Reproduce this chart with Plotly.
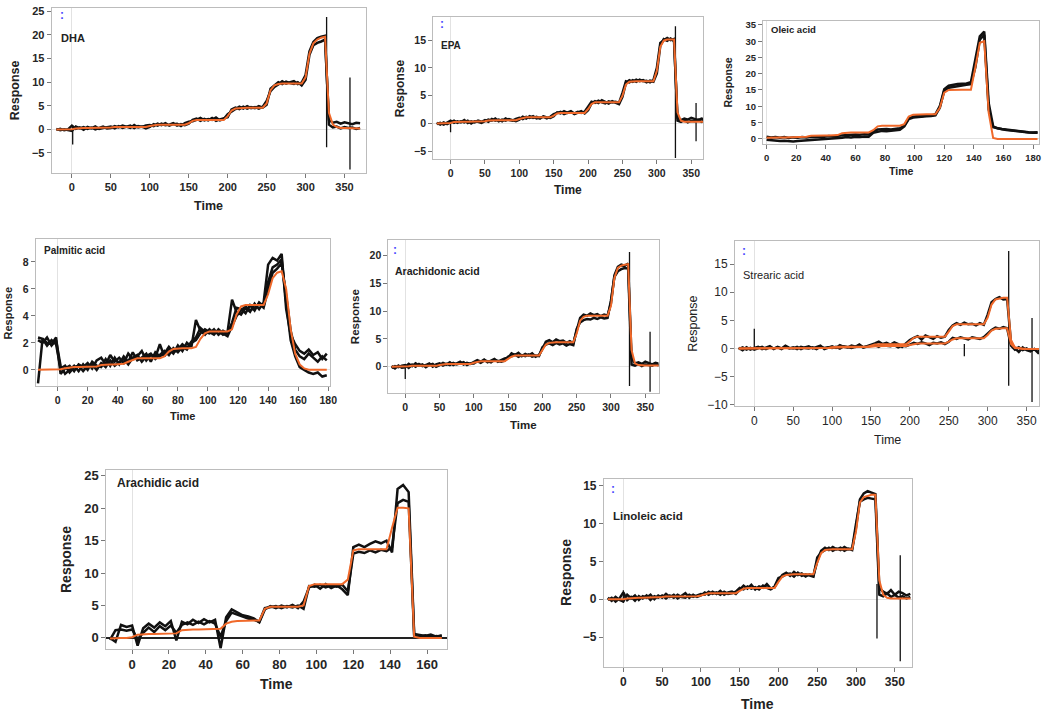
import plotly.graph_objects as go

# ---------------- time grids ----------------
long_time = list(range(-20, 371, 5))        # DHA, EPA, Arachidonic, Stearic, Linoleic
oleic_time = list(range(0, 184, 3))
palmitic_time = list(range(-13, 180, 3))
arachidic_time = list(range(-12, 169, 3))

# ---------------- DHA ----------------
dha_fit = [0, 0, 0, 0,
           0.05, 0.2, 0.3, 0.3, 0.3, 0.3, 0.3, 0.3, 0.3, 0.3,
           0.4, 0.5, 0.5, 0.5, 0.5, 0.5, 0.5, 0.5, 0.5, 0.5,
           0.7, 0.9, 1.0, 1.0, 1.0, 1.0, 1.0, 1.0, 1.0, 1.0,
           1.3, 1.8, 2.0, 2.0, 2.0, 2.0, 2.0, 2.0, 2.0, 2.0,
           2.8, 4.0, 4.4, 4.5, 4.5, 4.6, 4.6, 4.6, 4.6, 4.6,
           5.5, 8.3, 9.3, 9.6, 9.7, 9.7, 9.7, 9.7, 9.7, 9.7,
           11.0, 16.0, 18.2, 19.0, 19.4, 19.6,
           3.5, 1.0, 0.5, 0.3, 0.3, 0.3, 0.2, 0.2, 0.2]
dha_obs_a = [0.1, -0.2, 0.0, -0.1,
             -0.3, 0.6, 0.2, 0.5, 0.1, 0.4, 0.0, 0.3, 0.6, 0.2,
             0.3, 0.7, 0.4, 0.8, 0.5, 0.3, 0.9, 0.4, 0.6, 0.2,
             0.5, 1.1, 0.8, 1.2, 0.9, 1.0, 1.3, 0.8, 1.1, 0.9,
             1.2, 2.0, 2.3, 1.8, 2.2, 1.9, 2.4, 1.8, 2.1, 2.3,
             2.6, 4.2, 4.6, 4.3, 4.8, 4.4, 4.7, 4.5, 4.9, 4.6,
             5.2, 8.6, 9.4, 10.0, 9.6, 10.1, 9.8, 9.6, 10.0, 9.3,
             10.5, 15.8, 17.8, 18.3, 18.6, 19.0,
             2.0, 1.4, 1.6, 1.2, 1.5, 1.3, 1.1, 1.4, 1.3]
dha_obs_b = [-0.1, 0.1, -0.2, 0.0,
             0.8, 0.1, 0.4, -0.1, 0.5, 0.2, 0.6, 0.1, 0.3, 0.5,
             0.6, 0.2, 0.7, 0.3, 0.6, 0.8, 0.3, 0.7, 0.5, 0.8,
             0.9, 0.7, 1.2, 0.9, 1.3, 0.8, 1.1, 1.2, 0.7, 1.3,
             1.6, 1.7, 2.0, 2.4, 1.9, 2.2, 2.0, 2.5, 1.9, 2.2,
             3.2, 3.8, 4.3, 4.8, 4.4, 4.9, 4.5, 4.7, 4.4, 4.8,
             6.0, 8.1, 9.0, 9.5, 10.2, 9.7, 9.9, 10.2, 9.6, 9.9,
             11.5, 16.5, 18.5, 19.3, 19.6, 19.8,
             1.0, 0.4, 0.6, 0.2, 0.5, 0.3, 0.4, 0.1, 0.3]
dha_spike_t = [1, 327, 357]
dha_spike_lo = [-3.2, -3.8, -8.5]
dha_spike_hi = [0.8, 23.8, 11.0]

# ---------------- EPA ----------------
epa_fit = [0, 0, 0, 0,
           0.1, 0.25, 0.3, 0.3, 0.3, 0.3, 0.3, 0.3, 0.3, 0.3,
           0.4, 0.55, 0.6, 0.6, 0.6, 0.6, 0.6, 0.6, 0.6, 0.6,
           0.8, 1.0, 1.1, 1.1, 1.1, 1.1, 1.1, 1.1, 1.1, 1.1,
           1.4, 1.8, 1.9, 1.9, 1.9, 1.9, 1.9, 1.9, 1.9, 1.9,
           2.6, 3.5, 3.8, 3.8, 3.8, 3.8, 3.8, 3.8, 3.8, 3.8,
           5.0, 7.0, 7.5, 7.6, 7.6, 7.6, 7.6, 7.6, 7.6, 7.6,
           9.5, 13.8, 14.9, 15.1, 15.1, 15.1,
           2.0, 0.5, 0.3, 0.3, 0.3, 0.3, 0.3, 0.3, 0.3]
epa_obs_a = [0.1, -0.2, 0.2, -0.1,
             0.2, 0.5, 0.1, 0.4, 0.2, 0.5, 0.0, 0.4, 0.3, 0.1,
             0.4, 0.7, 0.5, 0.9, 0.4, 0.7, 0.5, 0.8, 0.6, 0.4,
             0.7, 1.2, 0.9, 1.3, 1.0, 1.2, 0.9, 1.3, 1.1, 1.0,
             1.3, 2.0, 1.8, 2.2, 1.9, 2.1, 1.7, 2.0, 2.2, 1.8,
             2.4, 3.6, 4.0, 3.7, 4.2, 3.9, 3.6, 4.0, 3.7, 3.5,
             4.8, 7.3, 7.8, 7.5, 7.9, 7.6, 7.8, 7.4, 7.7, 7.5,
             9.0, 14.0, 15.2, 14.9, 15.3, 14.8,
             1.0, 0.6, 0.9, 0.7, 1.0, 0.8, 0.6, 0.9, 0.7]
epa_obs_b = [-0.1, 0.1, -0.2, 0.1,
             0.5, 0.1, 0.4, 0.2, 0.6, 0.1, 0.4, 0.2, 0.5, 0.3,
             0.6, 0.3, 0.8, 0.5, 0.7, 0.4, 0.9, 0.6, 0.5, 0.8,
             1.0, 0.8, 1.2, 1.0, 1.3, 0.9, 1.1, 1.2, 0.9, 1.2,
             1.7, 1.9, 2.1, 1.7, 2.0, 2.2, 1.8, 2.1, 1.9, 2.1,
             3.0, 3.9, 3.7, 4.1, 3.8, 3.6, 4.0, 3.8, 3.9, 3.7,
             5.5, 7.6, 7.4, 7.8, 7.5, 7.9, 7.6, 7.7, 7.4, 7.8,
             10.0, 14.5, 15.0, 15.4, 15.0, 15.2,
             0.5, 0.3, 0.6, 0.2, 0.5, 0.4, 0.7, 0.3, 0.6]
epa_spike_t = [0, 327, 357]
epa_spike_lo = [-1.6, -6.2, -3.2]
epa_spike_hi = [0.5, 17.5, 3.7]

# ---------------- Oleic acid ----------------
oleic_fit = [0.3, 0.4, 0.4, 0.4, 0.4, 0.4, 0.4, 0.4, 0.4, 0.6,
             0.9, 1.0, 1.0, 1.0, 1.0, 1.0, 1.1,
             1.7, 1.9, 1.9, 1.9, 1.9, 1.9, 1.9,
             2.6, 3.8, 4.0, 4.0, 4.0, 4.0, 4.0,
             4.5, 6.8, 7.4, 7.5, 7.5, 7.5, 7.5, 7.5,
             9.5, 14.2, 15.0, 15.1, 15.1, 15.1, 15.1, 15.1,
             22.0, 29.5, 30.0, 8.0,
             0.2, -0.1, -0.1, -0.1, -0.1, -0.1, -0.1, -0.1, -0.1, -0.1, -0.1]
oleic_obs_a = [0.6, 0.4, 0.5, 0.3, 0.5, 0.2, 0.4, 0.3, 0.5, 0.4,
               0.6, 0.5, 0.7, 0.6, 0.8, 0.7, 0.9,
               1.0, 1.2, 1.1, 1.3, 1.2, 1.4, 1.3,
               2.3, 2.8, 2.9, 3.0, 2.8, 3.1, 3.2,
               4.0, 6.3, 6.8, 7.0, 6.9, 7.2, 7.1, 7.5,
               10.0, 15.2, 16.3, 16.6, 16.8, 16.9, 17.0, 17.4,
               24.0, 31.5, 33.0, 11.0,
               3.8, 3.2, 3.0, 2.8, 2.6, 2.5, 2.3, 2.2, 2.0, 1.9, 2.0]
oleic_obs_b = [-0.3, -0.5, -0.6, -0.7, -0.6, -0.8, -0.9, -0.7, -0.6, -0.5,
               -0.4, -0.5, -0.3, -0.2, -0.1, 0.0, 0.1,
               0.3, 0.5, 0.4, 0.6, 0.5, 0.7, 0.6,
               1.8, 2.2, 2.4, 2.3, 2.5, 2.6, 2.7,
               3.8, 6.0, 6.5, 6.7, 6.8, 6.9, 7.0, 7.2,
               9.5, 14.8, 15.7, 16.0, 16.2, 16.4, 16.6, 16.8,
               22.0, 30.5, 32.0, 9.0,
               3.5, 3.1, 2.9, 2.7, 2.5, 2.4, 2.2, 2.1, 1.9, 1.8, 1.8]

# ---------------- Palmitic acid ----------------
palmitic_fit = [0, 0, 0, 0, 0,
                0.05, 0.12, 0.18, 0.2, 0.2, 0.2, 0.2, 0.2, 0.25, 0.35,
                0.4, 0.4, 0.4, 0.4, 0.45, 0.6, 0.75, 0.85, 0.85, 0.85,
                0.85, 0.85, 0.85, 1.0, 1.35, 1.55, 1.6, 1.6, 1.6, 1.6,
                1.7, 2.3, 2.7, 2.85, 2.85, 2.85, 2.85, 2.85, 3.0, 4.1,
                4.7, 4.8, 4.8, 4.8, 4.8, 4.8, 5.6, 6.8, 7.2, 7.3,
                6.0, 3.0, 1.2, 0.4, 0.1, 0.0, 0.0, 0.0, 0.0, 0.0]
palmitic_obs_a = [-1.0, 2.3, 2.0, 1.9, 2.4,
                  -0.3, 0.1, 0.3, -0.1, 0.4, 0.2, 0.5, 0.1, 0.7, 0.9,
                  0.4, 1.1, 0.6, 0.9, 0.5, 1.2, 0.8, 1.0, 1.4, 0.7,
                  1.1, 0.9, 1.9, 1.0, 1.5, 1.2, 1.8, 1.4, 2.0, 1.7,
                  3.7, 2.9, 2.6, 3.0, 2.7, 2.9, 2.6, 2.8, 5.2, 4.3,
                  4.1, 4.6, 4.3, 4.9, 4.5, 5.0, 7.8, 8.3, 8.1, 8.6,
                  4.5, 2.6, 1.9, 1.4, 1.2, 1.5, 1.1, 1.3, 0.8, 1.2]
palmitic_obs_b = [2.2, 2.0, 2.4, 1.8, 2.2,
                  0.3, -0.3, 0.0, 0.3, -0.1, 0.4, 0.0, 0.6, 0.3, 0.2,
                  0.8, 0.3, 0.9, 0.4, 1.0, 0.6, 1.3, 0.7, 0.9, 1.2,
                  0.6, 1.3, 1.0, 1.2, 1.7, 1.3, 1.5, 1.9, 1.6, 2.1,
                  2.4, 3.1, 2.8, 2.7, 3.0, 2.6, 2.9, 2.7, 3.5, 4.6,
                  4.5, 4.2, 4.8, 4.4, 5.0, 4.7, 6.5, 7.6, 7.8, 8.2,
                  5.0, 2.2, 1.0, 0.2, 0.0, -0.2, -0.3, -0.2, -0.5, -0.4]
palmitic_obs_c = [2.4, 2.3, 1.8, 2.2, 1.9,
                  0.1, 0.3, -0.2, 0.2, 0.3, -0.1, 0.3, 0.4, 0.0, 0.5,
                  0.2, 0.7, 0.3, 0.6, 0.8, 0.4, 0.9, 1.1, 0.6, 1.0,
                  1.2, 0.8, 1.1, 1.4, 1.1, 1.6, 1.3, 1.7, 1.5, 2.0,
                  2.2, 2.7, 3.0, 2.8, 2.6, 3.0, 2.7, 2.5, 3.2, 4.0,
                  4.4, 4.7, 4.4, 4.6, 4.9, 4.6, 6.0, 7.2, 7.5, 7.9,
                  5.5, 2.9, 1.5, 1.0, 0.8, 1.2, 0.9, 0.6, 1.0, 0.7]

# ---------------- Arachidonic acid ----------------
arachidonic_fit = [0, 0, 0, 0,
                   0.05, 0.1, 0.15, 0.15, 0.15, 0.15, 0.15, 0.15, 0.15, 0.15,
                   0.3, 0.45, 0.5, 0.5, 0.5, 0.5, 0.5, 0.5, 0.5, 0.5,
                   0.7, 0.9, 1.0, 1.0, 1.0, 1.0, 1.0, 1.0, 1.0, 1.0,
                   1.4, 1.8, 2.0, 2.0, 2.0, 2.0, 2.0, 2.0, 2.0, 2.0,
                   3.0, 4.0, 4.3, 4.4, 4.4, 4.4, 4.4, 4.4, 4.4, 4.4,
                   6.0, 8.3, 9.0, 9.2, 9.2, 9.2, 9.2, 9.2, 9.2, 9.2,
                   11.0, 16.0, 17.8, 18.2, 18.4, 18.5,
                   3.0, 0.6, 0.3, 0.2, 0.2, 0.2, 0.2, 0.2, 0.2]
arachidonic_obs_a = [0.1, -0.3, 0.2, -0.2,
                     -0.1, 0.5, 0.1, 0.6, 0.2, 0.4, -0.1, 0.3, 0.5, 0.0,
                     0.3, 0.7, 0.4, 0.8, 0.3, 0.6, 0.9, 0.4, 0.7, 0.5,
                     0.8, 1.2, 0.9, 1.3, 0.8, 1.1, 1.4, 0.9, 1.2, 1.5,
                     1.6, 2.4, 2.1, 2.5, 1.9, 2.3, 2.0, 2.4, 1.8, 2.1,
                     3.2, 4.5, 4.8, 4.4, 4.9, 4.6, 4.7, 4.3, 4.6, 4.2,
                     6.5, 8.8, 9.4, 9.2, 9.6, 9.3, 9.5, 9.1, 9.4, 9.2,
                     11.5, 16.5, 18.0, 18.4, 18.2, 18.6,
                     1.5, 0.6, 0.8, 0.5, 0.9, 0.6, 0.4, 0.7, 0.5]
arachidonic_obs_b = [-0.2, 0.1, -0.1, 0.2,
                     0.3, -0.2, 0.4, 0.0, 0.5, 0.1, 0.3, 0.6, 0.0, 0.4,
                     0.6, 0.2, 0.5, 0.3, 0.7, 0.4, 0.6, 0.8, 0.3, 0.6,
                     0.6, 1.0, 0.7, 1.1, 1.0, 0.8, 1.2, 1.0, 0.9, 1.1,
                     1.8, 1.9, 2.2, 1.8, 2.1, 1.9, 2.2, 1.8, 2.0, 1.9,
                     3.5, 4.0, 4.2, 3.9, 4.3, 4.0, 4.2, 3.8, 4.1, 3.9,
                     6.8, 8.0, 8.4, 8.6, 8.5, 8.8, 8.6, 8.9, 8.7, 8.8,
                     12.0, 16.2, 17.2, 17.6, 17.8, 17.7,
                     0.4, 0.2, 0.5, 0.1, 0.4, 0.3, 0.2, 0.5, 0.2]
arachidonic_spike_t = [0, 327, 357]
arachidonic_spike_lo = [-2.2, -3.5, -4.5]
arachidonic_spike_hi = [0.5, 20.7, 6.3]

# ---------------- Strearic acid ----------------
stearic_fit_high = [0, 0, 0, 0,
                    0, 0.05, 0.05, 0.05, 0.05, 0.05, 0.05, 0.05, 0.05, 0.05,
                    0.1, 0.1, 0.1, 0.1, 0.1, 0.1, 0.1, 0.1, 0.1, 0.1,
                    0.2, 0.3, 0.3, 0.3, 0.3, 0.3, 0.3, 0.3, 0.3, 0.3,
                    0.5, 0.7, 0.75, 0.75, 0.75, 0.75, 0.75, 0.75, 0.75, 0.75,
                    1.3, 1.9, 2.1, 2.1, 2.1, 2.1, 2.1, 2.1, 2.1, 2.1,
                    3.0, 4.0, 4.3, 4.3, 4.3, 4.3, 4.3, 4.3, 4.3, 4.3,
                    5.5, 7.8, 8.7, 8.9, 9.0, 9.0,
                    1.5, 0.2, 0.0, -0.1, -0.1, -0.1, -0.1, -0.1, -0.1]
stearic_fit_low = [0, 0, 0, 0,
                   0, 0.05, 0.05, 0.05, 0.05, 0.05, 0.05, 0.05, 0.05, 0.05,
                   0.1, 0.1, 0.1, 0.1, 0.1, 0.1, 0.1, 0.1, 0.1, 0.1,
                   0.15, 0.2, 0.2, 0.2, 0.2, 0.2, 0.2, 0.2, 0.2, 0.2,
                   0.3, 0.4, 0.45, 0.45, 0.45, 0.45, 0.45, 0.45, 0.45, 0.45,
                   0.6, 0.8, 0.9, 0.9, 0.9, 0.9, 0.9, 0.9, 0.9, 0.9,
                   1.2, 1.6, 1.8, 1.8, 1.8, 1.8, 1.8, 1.8, 1.8, 1.8,
                   2.4, 3.2, 3.5, 3.6, 3.6, 3.6,
                   0.8, 0.1, 0.0, -0.1, -0.1, -0.1, -0.1, -0.1, -0.1]
stearic_obs_high = [0.1, -0.3, 0.2, -0.2,
                    0.1, 0.3, -0.1, 0.2, 0.4, -0.1, 0.3, 0.0, 0.5, 0.1,
                    0.0, 0.3, -0.1, 0.2, 0.4, 0.0, 0.3, 0.5, -0.1, 0.2,
                    0.4, 0.1, 0.6, 0.3, 0.2, 0.5, 0.3, 0.7, 0.2, 0.4,
                    0.6, 0.9, 1.2, 0.8, 1.0, 0.7, 1.1, 0.8, 0.3, 0.9,
                    1.5, 1.9, 2.2, 1.6, 2.3, 2.0, 1.7, 2.2, 1.9, 2.1,
                    3.3, 4.1, 4.5, 4.2, 4.6, 4.3, 4.4, 4.1, 4.5, 4.2,
                    6.0, 8.2, 8.8, 9.1, 8.7, 8.8,
                    1.0, 0.0, -0.6, 0.2, -0.3, -0.5, -0.1, -0.8, -0.4]
stearic_obs_low = [-0.1, 0.2, -0.2, 0.1,
                   -0.2, 0.1, 0.3, -0.1, 0.2, 0.0, 0.2, -0.1, 0.3, 0.0,
                   0.2, -0.1, 0.3, 0.1, 0.0, 0.2, -0.1, 0.3, 0.1, 0.2,
                   0.1, 0.3, 0.0, 0.4, 0.2, 0.1, 0.3, 0.5, 0.2, 0.3,
                   0.4, 0.6, 0.3, 0.7, 0.5, 0.4, 0.6, 0.2, 0.5, 0.4,
                   0.7, 1.0, 0.8, 1.1, 0.9, 0.6, 1.0, 0.9, 1.1, 0.8,
                   1.2, 1.9, 1.7, 2.0, 1.8, 1.6, 2.0, 1.9, 1.7, 2.0,
                   2.6, 3.3, 3.7, 3.5, 3.8, 3.6,
                   0.5, -0.2, 0.2, -0.3, 0.0, -0.4, -0.1, -0.2, -0.5]
stearic_spike_t = [0, 270, 327, 357]
stearic_spike_lo = [-0.2, -1.4, -6.6, -9.5]
stearic_spike_hi = [3.5, 0.8, 17.3, 5.4]

# ---------------- Arachidic acid ----------------
arachidic_fit = [-0.1, 0.0, 0.0, 0.0,
                 0.1, 0.5, 0.6, 0.6, 0.6, 0.6, 0.6, 0.6,
                 0.7, 1.2, 1.3, 1.3, 1.3, 1.3, 1.3, 1.3,
                 1.4, 2.2, 2.5, 2.6, 2.6, 2.6, 2.6, 2.7,
                 4.5, 4.8, 4.8, 4.8, 4.8, 4.8, 4.8, 5.0,
                 8.0, 8.3, 8.3, 8.3, 8.3, 8.3, 8.3, 9.0,
                 13.5, 13.7, 13.7, 13.7, 13.7, 13.7, 13.7, 17.0,
                 20.1, 20.1, 20.0, 0.2, 0.0, 0.0, 0.0, 0.0,
                 0.0]
arachidic_obs_a = [0.0, -0.6, 2.0, 1.7,
                   1.9, -1.2, 1.5, 2.2, 1.6, 2.4, 1.8, 2.6,
                   -0.4, 2.5, 2.1, 2.8, 2.3, 2.9, 2.4, 2.8,
                   -1.6, 3.2, 4.4, 4.0, 3.5, 3.3, 3.0, 2.4,
                   4.4, 4.9, 4.6, 5.0, 4.7, 5.1, 4.6, 5.6,
                   7.8, 8.2, 7.6, 8.3, 7.7, 8.1, 7.5, 6.6,
                   14.0, 14.4, 14.0, 14.5, 14.9, 14.6, 15.0, 13.2,
                   23.0, 23.6, 22.5, 0.6, 0.4, 0.3, 0.5, 0.2,
                   0.4]
arachidic_obs_b = [-0.3, 1.2, 1.3, 1.1,
                   1.3, -0.2, 0.8, 1.6, 0.9, 1.8, 1.2, 1.9,
                   0.8, 2.0, 2.4, 2.0, 2.5, 2.1, 2.6, 2.2,
                   0.2, 2.6, 3.9, 3.6, 3.2, 3.0, 2.8, 2.5,
                   4.6, 4.7, 4.9, 4.6, 4.9, 4.7, 5.0, 4.5,
                   8.0, 7.9, 8.2, 7.8, 8.1, 7.9, 8.2, 7.2,
                   13.0, 13.3, 13.1, 13.5, 13.2, 13.6, 13.4, 14.0,
                   20.8, 21.3, 21.0, 0.3, 0.2, 0.4, 0.1, 0.3,
                   0.2]

# ---------------- Linoleic acid ----------------
linoleic_fit = [0, 0, 0, 0,
                0.0, 0.1, 0.15, 0.2, 0.2, 0.2, 0.2, 0.2, 0.25, 0.25,
                0.3, 0.35, 0.35, 0.35, 0.4, 0.4, 0.4, 0.4, 0.4, 0.4,
                0.5, 0.7, 0.8, 0.8, 0.8, 0.8, 0.8, 0.8, 0.8, 0.8,
                1.1, 1.4, 1.5, 1.5, 1.5, 1.5, 1.5, 1.5, 1.5, 1.5,
                2.3, 3.0, 3.2, 3.3, 3.3, 3.3, 3.3, 3.3, 3.3, 3.3,
                4.8, 6.1, 6.5, 6.6, 6.6, 6.6, 6.6, 6.6, 6.6, 6.6,
                9.0, 12.8, 13.5, 13.7, 13.8, 13.8,
                2.5, 0.6, 0.2, 0.1, 0.1, 0.1, 0.1, 0.1, 0.1]
linoleic_obs_a = [0.2, -0.2, 0.3, -0.1,
                  -0.3, 0.6, 0.1, 0.5, -0.1, 0.4, 0.2, 0.6, 0.0, 0.5,
                  0.2, 0.7, 0.3, 0.6, 0.1, 0.5, 0.8, 0.2, 0.6, 0.3,
                  0.5, 0.9, 0.6, 1.0, 0.7, 1.1, 0.6, 0.9, 1.0, 0.7,
                  1.2, 1.8, 1.4, 1.9, 1.3, 1.7, 1.5, 2.0, 1.4, 1.6,
                  2.5, 3.2, 3.5, 3.1, 3.6, 3.2, 3.4, 3.0, 3.3, 3.1,
                  5.0, 6.4, 6.8, 6.5, 6.9, 6.6, 6.8, 6.4, 6.7, 6.5,
                  9.5, 13.2, 14.0, 14.3, 14.1, 13.9,
                  1.5, 1.0, 0.7, 1.2, 0.6, 1.0, 0.8, 0.5, 0.7]
linoleic_obs_b = [-0.1, 0.2, -0.3, 0.1,
                  0.9, -0.1, 0.3, -0.2, 0.4, 0.1, 0.5, -0.1, 0.4, 0.2,
                  0.5, 0.1, 0.5, 0.2, 0.6, 0.3, 0.2, 0.6, 0.3, 0.5,
                  0.7, 0.6, 1.0, 0.7, 0.9, 0.6, 1.0, 0.7, 0.8, 1.0,
                  1.5, 1.3, 1.7, 1.4, 1.6, 1.3, 1.8, 1.5, 1.3, 1.7,
                  2.8, 3.0, 3.3, 3.4, 3.0, 3.5, 3.1, 3.3, 3.2, 3.0,
                  5.5, 6.2, 6.5, 6.8, 6.4, 6.7, 6.5, 6.9, 6.6, 6.7,
                  10.0, 12.9, 13.2, 13.4, 13.3, 13.2,
                  0.6, 0.4, 0.8, 0.3, 0.6, 0.2, 0.4, 0.1, 0.3]
linoleic_spike_t = [0, 327, 357]
linoleic_spike_lo = [-0.5, -5.2, -8.2]
linoleic_spike_hi = [1.2, 2.0, 5.8]

# ---------------- assemble ----------------
series = {
    "dha": dict(t=long_time, fits=[dha_fit], obs=[dha_obs_a, dha_obs_b],
                spikes=(dha_spike_t, dha_spike_lo, dha_spike_hi)),
    "epa": dict(t=long_time, fits=[epa_fit], obs=[epa_obs_a, epa_obs_b],
                spikes=(epa_spike_t, epa_spike_lo, epa_spike_hi)),
    "oleic": dict(t=oleic_time, fits=[oleic_fit], obs=[oleic_obs_a, oleic_obs_b], spikes=None),
    "palmitic": dict(t=palmitic_time, fits=[palmitic_fit],
                     obs=[palmitic_obs_a, palmitic_obs_b, palmitic_obs_c], spikes=None),
    "arachidonic": dict(t=long_time, fits=[arachidonic_fit],
                        obs=[arachidonic_obs_a, arachidonic_obs_b],
                        spikes=(arachidonic_spike_t, arachidonic_spike_lo, arachidonic_spike_hi)),
    "stearic": dict(t=long_time, fits=[stearic_fit_high, stearic_fit_low],
                    obs=[stearic_obs_high, stearic_obs_low],
                    spikes=(stearic_spike_t, stearic_spike_lo, stearic_spike_hi)),
    "arachidic": dict(t=arachidic_time, fits=[arachidic_fit],
                      obs=[arachidic_obs_a, arachidic_obs_b], spikes=None),
    "linoleic": dict(t=long_time, fits=[linoleic_fit], obs=[linoleic_obs_a, linoleic_obs_b],
                     spikes=(linoleic_spike_t, linoleic_spike_lo, linoleic_spike_hi)),
}

# layout per panel: box (left, right, top, bottom) in px
panels = [
    dict(key="dha", label="DHA", box=(52, 368, 5, 172), xr=(-26, 377), yr=(-9.2, 25.7),
         dx=50, dy=5, tick=11, title=12.5, lab=11, bold=True, ytx=15, xty=206,
         labpos=(59, 35), dots=(62, 12)),
    dict(key="epa", label="EPA", box=(436, 708, 14, 158), xr=(-25.4, 367.5), yr=(-6.4, 19.2),
         dx=50, dy=5, tick=10.5, title=12, lab=10, bold=True, ytx=403, xty=189,
         labpos=(442, 43), dots=(445, 21)),
    dict(key="oleic", label="Oleic acid", box=(768, 1046, 18, 143), xr=(-2.5, 184), yr=(-1.7, 36.3),
         dx=20, dy=5, tick=9.5, title=10.5, lab=9.5, bold=True, ytx=733, xty=170,
         labpos=(774, 27), dots=None),
    dict(key="palmitic", label="Palmitic acid", box=(36, 332, 239, 388), xr=(-14.5, 181), yr=(-1.21, 9.7),
         dx=20, dy=2, tick=10.5, title=11, lab=10, bold=True, ytx=8, xty=418,
         labpos=(42, 251), dots=None),
    dict(key="arachidonic", label="Arachidonic acid", box=(391, 663, 240, 395), xr=(-24.6, 369.4),
         yr=(-4.75, 22.85), dx=50, dy=5, tick=10.5, title=11.5, lab=10.5, bold=True, ytx=357, xty=427,
         labpos=(396, 271), dots=(398, 250)),
    dict(key="stearic", label="Strearic acid", box=(740, 1046, 241, 408), xr=(-24.7, 366), yr=(-10.2, 19.1),
         dx=50, dy=5, tick=12, title=12.5, lab=11, bold=False, ytx=698, xty=443,
         labpos=(746, 275), dots=(749, 251)),
    dict(key="arachidic", label="Arachidic acid", box=(107, 450, 473, 654), xr=(-14, 170.8), yr=(-1.68, 25.9),
         dx=20, dy=5, tick=13, title=14, lab=12, bold=True, ytx=67, xty=690,
         labpos=(116, 486), dots=None),
    dict(key="linoleic", label="Linoleic acid", box=(608, 918, 482, 672), xr=(-25, 372), yr=(-8.9, 15.9),
         dx=50, dy=5, tick=12, title=14, lab=11.5, bold=True, ytx=570, xty=710,
         labpos=(615, 520), dots=(617, 492)),
]

W, H = 1050, 718
FONT = "Liberation Sans, Arial, sans-serif"
ORANGE = "#F0692A"
BLACK = "#111111"

fig = go.Figure()
annotations = []
layout_axes = {}

for i, p in enumerate(panels):
    n = "" if i == 0 else str(i + 1)
    xa, ya = "x" + n, "y" + n
    s = series[p["key"]]
    for obs in s["obs"]:
        fig.add_trace(go.Scatter(x=s["t"], y=obs, mode="lines",
                                 line=dict(color=BLACK, width=2.5),
                                 xaxis=xa, yaxis=ya, hoverinfo="skip"))
    if s["spikes"] is not None:
        sx, sy = [], []
        for t, lo, hi in zip(*s["spikes"]):
            sx += [t, t, None]
            sy += [lo, hi, None]
        fig.add_trace(go.Scatter(x=sx, y=sy, mode="lines", line=dict(color=BLACK, width=1.3),
                                 xaxis=xa, yaxis=ya, hoverinfo="skip", connectgaps=False))
    for fit in s["fits"]:
        fig.add_trace(go.Scatter(x=s["t"], y=fit, mode="lines",
                                 line=dict(color=ORANGE, width=2),
                                 xaxis=xa, yaxis=ya, hoverinfo="skip"))

    left, right, top, bottom = p["box"]
    weight = "bold" if p["bold"] else "normal"
    tickfont = dict(family=FONT, size=p["tick"], color="#262626", weight=weight)
    common = dict(showline=True, linecolor="#bcbcbc", linewidth=1, mirror=True,
                  ticks="outside", ticklen=4, tickwidth=1, tickcolor="#777777",
                  showgrid=False, zeroline=True, zerolinecolor="#e2e2e2", zerolinewidth=1,
                  tickfont=tickfont, tick0=0, fixedrange=True)
    ycommon = dict(common)
    if p["key"] == "arachidic":
        ycommon["zerolinecolor"] = "#222222"
        ycommon["zerolinewidth"] = 1.5
    layout_axes["xaxis" + n] = dict(domain=[left / W, right / W], range=list(p["xr"]),
                                    anchor=ya, dtick=p["dx"], **common)
    layout_axes["yaxis" + n] = dict(domain=[1 - bottom / H, 1 - top / H], range=list(p["yr"]),
                                    anchor=xa, dtick=p["dy"], **ycommon)

    tfont = dict(family=FONT, size=p["title"], color="#222222", weight=weight)
    annotations.append(dict(text="Response", textangle=-90, xref="paper", x=p["ytx"] / W,
                            yref=ya + " domain", y=0.5, xanchor="center", yanchor="middle",
                            showarrow=False, font=tfont))
    annotations.append(dict(text="Time", xref=xa + " domain", x=0.5, yref="paper",
                            y=1 - p["xty"] / H, xanchor="center", yanchor="middle",
                            showarrow=False, font=tfont))
    lx, ly = p["labpos"]
    annotations.append(dict(text=p["label"], xref=xa + " domain", x=(lx - left) / (right - left),
                            yref=ya + " domain", y=(bottom - ly) / (bottom - top),
                            xanchor="left", yanchor="middle", showarrow=False,
                            font=dict(family=FONT, size=p["lab"], color="#222222", weight=weight)))
    if p["dots"] is not None:
        dx_, dy_ = p["dots"]
        annotations.append(dict(text=":", xref=xa + " domain", x=(dx_ - left) / (right - left),
                                yref=ya + " domain", y=(bottom - dy_) / (bottom - top),
                                xanchor="center", yanchor="middle", showarrow=False,
                                font=dict(family=FONT, size=12, color="#4a4aff", weight="bold")))

fig.update_layout(width=W, height=H, margin=dict(l=0, r=0, t=0, b=0),
                  paper_bgcolor="white", plot_bgcolor="white", showlegend=False,
                  annotations=annotations, **layout_axes)

fig.write_html("out.html", config={"displayModeBar": False},
               post_script="document.body.style.margin='0px';")
